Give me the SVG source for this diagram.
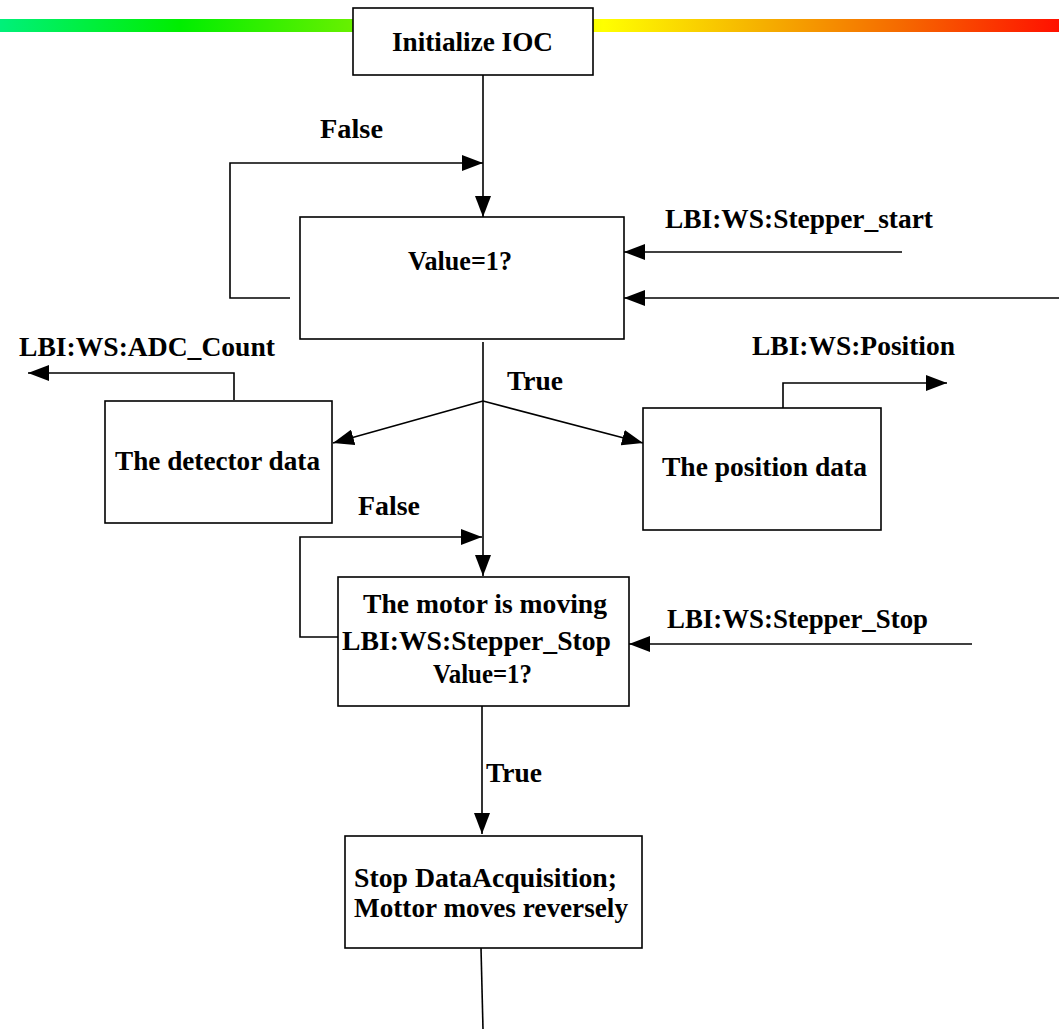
<svg xmlns="http://www.w3.org/2000/svg" width="1059" height="1029" viewBox="0 0 1059 1029">
<defs>
<linearGradient id="bar" x1="0" y1="0" x2="1059" y2="0" gradientUnits="userSpaceOnUse">
<stop offset="0" stop-color="#00f07a"/>
<stop offset="0.17" stop-color="#00ee00"/>
<stop offset="0.33" stop-color="#66f000"/>
<stop offset="0.57" stop-color="#ffff00"/>
<stop offset="0.72" stop-color="#f5b000"/>
<stop offset="0.85" stop-color="#f56a00"/>
<stop offset="1" stop-color="#ff1000"/>
</linearGradient>
<marker id="ah" markerUnits="userSpaceOnUse" markerWidth="22" markerHeight="16" refX="21" refY="8" orient="auto">
<path d="M0,0 L21,8 L0,16 Z" fill="#000"/>
</marker>
</defs>
<style>
.box{fill:#fff;stroke:#000;stroke-width:1.6}
.c{fill:none;stroke:#000;stroke-width:1.6}
.a{marker-end:url(#ah)}
text{font-family:"Liberation Serif","Times New Roman",serif;font-weight:bold;font-size:28px;fill:#000}
</style>
<rect x="0" y="19" width="1059" height="13" fill="url(#bar)"/>
<g id="connectors">
<path class="c a" d="M483,75 L483,217"/>
<path class="c a" d="M290,298 L230,298 L230,163 L483,163"/>
<path class="c a" d="M902,252 L624,252"/>
<path class="c a" d="M1059,298 L624,298"/>
<path class="c a" d="M483,342 L483,576"/>
<path class="c a" d="M483,401 L333,443"/>
<path class="c a" d="M483,401 L643,443"/>
<path class="c a" d="M234,400 L234,373 L28,373"/>
<path class="c a" d="M783,408 L783,383 L947,383"/>
<path class="c a" d="M338,637 L300,637 L300,537 L482,537"/>
<path class="c a" d="M972,644 L629,644"/>
<path class="c a" d="M482,706 L482,834"/>
<path class="c" d="M481,948 L483,1029"/>
</g>
<g id="labels">
<text x="320" y="138" textLength="63" lengthAdjust="spacingAndGlyphs">False</text>
<text x="665" y="228" textLength="268" lengthAdjust="spacingAndGlyphs">LBI:WS:Stepper_start</text>
<text x="19" y="356" textLength="256" lengthAdjust="spacingAndGlyphs">LBI:WS:ADC_Count</text>
<text x="507" y="390" textLength="56" lengthAdjust="spacingAndGlyphs">True</text>
<text x="752" y="355" textLength="203" lengthAdjust="spacingAndGlyphs">LBI:WS:Position</text>
<text x="358" y="515" textLength="62" lengthAdjust="spacingAndGlyphs">False</text>
<text x="667" y="628" textLength="261" lengthAdjust="spacingAndGlyphs">LBI:WS:Stepper_Stop</text>
<text x="486" y="782" textLength="56" lengthAdjust="spacingAndGlyphs">True</text>
</g>
<g id="init">
<rect class="box" x="353" y="8" width="240" height="67"/>
<text x="392" y="51" textLength="161" lengthAdjust="spacingAndGlyphs">Initialize IOC</text>
</g>
<g id="check-start">
<rect class="box" x="300" y="217" width="324" height="122"/>
<text x="408" y="270" textLength="104" lengthAdjust="spacingAndGlyphs">Value=1?</text>
</g>
<g id="detector">
<rect class="box" x="105" y="401" width="227" height="122"/>
<text x="115" y="470" textLength="205" lengthAdjust="spacingAndGlyphs">The detector data</text>
</g>
<g id="position">
<rect class="box" x="643" y="408" width="238" height="122"/>
<text x="662" y="476" textLength="205" lengthAdjust="spacingAndGlyphs">The position data</text>
</g>
<g id="check-stop">
<rect class="box" x="338" y="577" width="291" height="129"/>
<text x="363" y="613" textLength="244" lengthAdjust="spacingAndGlyphs">The motor is moving</text>
<text x="342" y="650" textLength="269" lengthAdjust="spacingAndGlyphs">LBI:WS:Stepper_Stop</text>
<text x="433" y="683" textLength="99" lengthAdjust="spacingAndGlyphs">Value=1?</text>
</g>
<g id="stop">
<rect class="box" x="345" y="836" width="297" height="112"/>
<text x="354" y="887" textLength="263" lengthAdjust="spacingAndGlyphs">Stop DataAcquisition;</text>
<text x="354" y="917" textLength="274" lengthAdjust="spacingAndGlyphs">Mottor moves reversely</text>
</g>
</svg>
